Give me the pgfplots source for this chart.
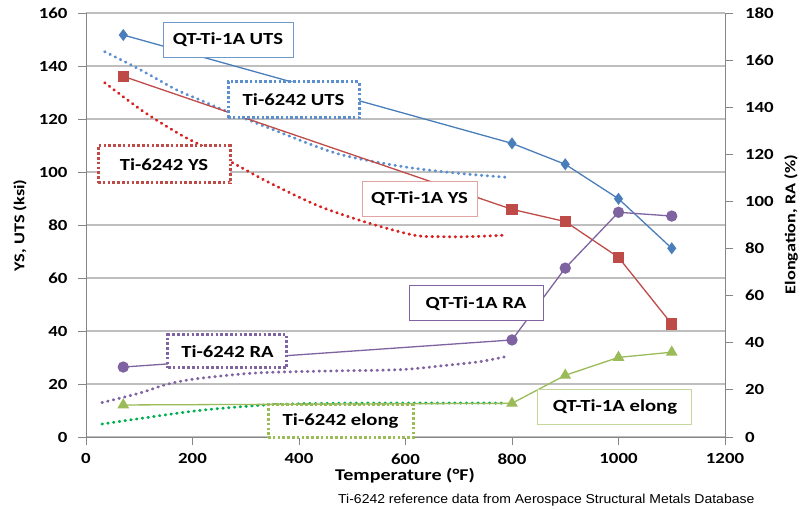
\documentclass[border=0pt]{standalone}
\usepackage{fontspec}
\setmainfont{Carlito}[FakeStretch=1.22]
\newfontfamily\notefont{Liberation Sans}[FakeStretch=1.08]
\usepackage{pgfplots}
\pgfplotsset{compat=1.18}
\definecolor{qtblue}{HTML}{4A7EBB}
\definecolor{qtred}{HTML}{BE4B48}
\definecolor{qtpurple}{HTML}{7F63A1}
\definecolor{qtgreen}{HTML}{9BBB59}
\definecolor{refblue}{HTML}{5B8FD0}
\definecolor{refred}{HTML}{D92020}
\definecolor{refpurple}{HTML}{8064A2}
\definecolor{refgreen}{HTML}{00B050}
\definecolor{boxblue}{HTML}{6F98CB}
\definecolor{boxred}{HTML}{E0A4A2}
\definecolor{boxgreen}{HTML}{C3D69B}
\definecolor{gridgray}{HTML}{BEBEBE}
\definecolor{axisgray}{HTML}{868686}
\tikzset{
  solidline/.style={line width=1.3bp},
  dotline/.style={line width=2.9bp,line cap=round,dash pattern=on 0.6bp off 5.2bp,smooth,tension=0.5},
  lab/.style={fill=white,font=\fontsize{17}{20}\selectfont\bfseries,inner sep=0pt,
    minimum height=35bp,align=center},
  sbox/.style={lab,draw,line width=1bp},
  dbox/.style={lab,draw,line width=3bp,dash pattern=on 2.6bp off 2.2bp},
}
\pgfplotsset{
  base/.style={scale only axis,width=639bp,height=424bp,xmin=0,xmax=1200,
    clip=false,tick align=outside,major tick length=8bp,
    tick style={draw=axisgray,line width=0.8bp},
    axis line style={draw=axisgray,line width=0.8bp,-},
    ticklabel style={font=\fontsize{15.5}{18}\selectfont\bfseries},
    /pgf/number format/assume math mode=true,
    /pgf/number format/1000 sep={}},
}
\begin{document}
\begin{tikzpicture}
\begin{axis}[base,ymin=0,ymax=160,
  xtick={0,200,...,1200},ytick={0,20,...,160},
  axis x line*=bottom,axis y line*=left,
  ymajorgrids,grid style={draw=gridgray,line width=1.2bp},
  yticklabel style={xshift=-7bp},xticklabel style={yshift=-5bp}]
  % Ti-6242 reference data (dotted)
  \addplot[dotline,draw=refblue] coordinates {(35,145.4) (79,141) (120,136.6) (170,131)
    (214,127.2) (258,123.4) (345,116.5) (471,107) (596,102) (700,99.5) (790,98)};
  \addplot[dotline,draw=refred] coordinates {(35,133.7) (108,122.8) (173,114.6) (214,110.2)
    (277,103.3) (345,95.9) (439,87) (533,80.6) (615,76.2) (660,75.6) (720,75.6) (790,76.2)};
  % QT-Ti-1A
  \addplot[solidline,draw=qtblue,mark=diamond*,mark size=5bp,
    mark options={fill=qtblue,draw=qtblue,solid}] coordinates {
    (70,151.7) (800,110.8) (900,102.9) (1000,89.9) (1100,71.2)};
  \addplot[solidline,draw=qtred,mark=square*,mark size=5bp,
    mark options={fill=qtred,draw=qtred,solid}] coordinates {
    (70,136.1) (800,85.9) (900,81.3) (1000,67.8) (1100,42.6)};
\end{axis}
\begin{axis}[base,ymin=0,ymax=180,ytick={0,20,...,180},
  axis x line=none,axis y line*=right,
  yticklabel style={xshift=8.5bp}]
  \addplot[dotline,draw=refpurple] coordinates {(30,14.6) (100,18.6) (151,22.3) (200,24.5)
    (280,26.5) (340,27.4) (450,28) (590,28.6) (684,30.6) (740,32) (788,34.1)};
  \addplot[dotline,draw=refgreen] coordinates {(30,5.5) (100,7.8) (214,11.3) (339,13.6)
    (450,14.3) (600,14.4) (790,14.4)};
  \addplot[solidline,draw=qtpurple,mark=*,mark size=5bp,
    mark options={fill=qtpurple,draw=qtpurple,solid}] coordinates {
    (70,29.7) (800,41.2) (900,71.7) (1000,95.4) (1100,93.8)};
  \addplot[solidline,draw=qtgreen,mark=triangle*,mark size=5.5bp,
    mark options={fill=qtgreen,draw=qtgreen,solid}] coordinates {
    (70,13.6) (800,14.3) (900,26.2) (1000,33.8) (1100,36.0)};
  % series labels (right-axis units)
  \node[sbox,draw=boxblue,minimum width=130bp] at (axis cs:266.7,168.7) {QT-Ti-1A UTS};
  \node[dbox,draw=refblue,minimum width=131bp,minimum height=36bp] at (axis cs:389.7,143.1) {Ti-6242 UTS};
  \node[dbox,draw=qtred,minimum width=132bp,minimum height=37bp] at (axis cs:146.5,115.7) {Ti-6242 YS};
  \node[sbox,draw=boxred,minimum width=115bp] at (axis cs:626.3,101.2) {QT-Ti-1A YS};
  \node[sbox,draw=refpurple,minimum width=134bp] at (axis cs:732.4,56.7) {QT-Ti-1A RA};
  \node[dbox,draw=refpurple,minimum width=119bp,minimum height=33bp] at (axis cs:265.7,36.3) {Ti-6242 RA};
  \node[dbox,draw=qtgreen,minimum width=145bp,minimum height=33bp] at (axis cs:478,6.6) {Ti-6242 elong};
  \node[sbox,draw=boxgreen,minimum width=154bp] at (axis cs:993.4,12.9) {QT-Ti-1A elong};
\end{axis}
\node[rotate=90,font=\fontsize{15}{18}\selectfont\bfseries] at (-66bp,211.5bp) {YS, UTS (ksi)};
\node[rotate=90,font=\fontsize{15}{18}\selectfont\bfseries] at (705bp,212.5bp) {Elongation, RA (\%)};
\node[anchor=base,font=\fontsize{16.5}{19}\selectfont\bfseries] at (319bp,-43bp) {Temperature (°F)};
\node[anchor=base west,inner sep=0pt,font=\notefont\fontsize{13}{15}\selectfont] at (252bp,-66bp)
  {Ti-6242 reference data from Aerospace Structural Metals Database};
\pgfresetboundingbox
\path[use as bounding box] (-86bp,-72bp) rectangle (722bp,437bp);
\end{tikzpicture}
\end{document}
